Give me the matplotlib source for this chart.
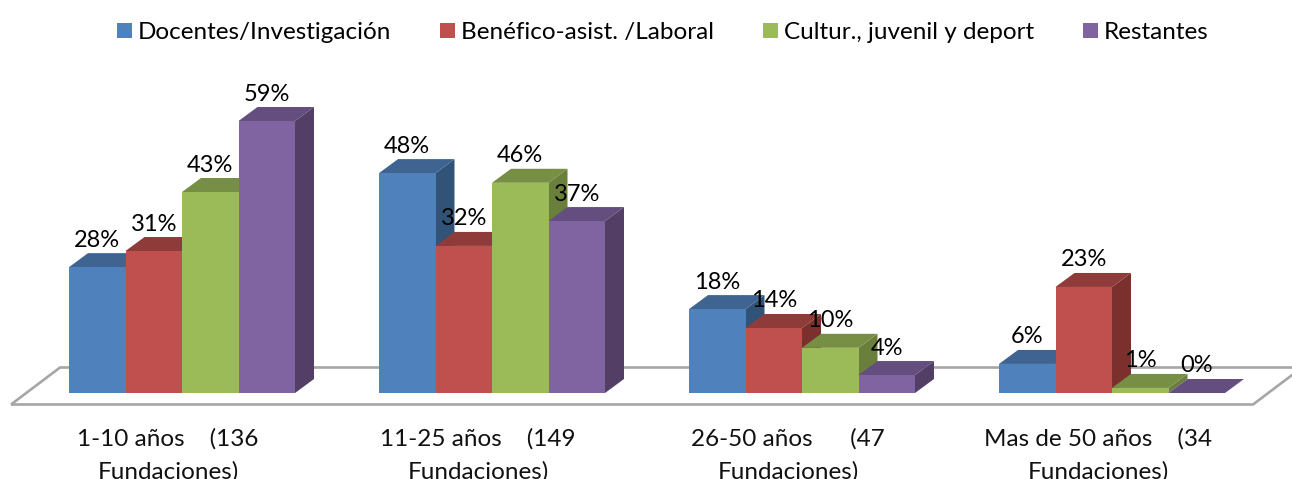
import matplotlib
matplotlib.use('Agg')
import matplotlib.pyplot as plt
from matplotlib.patches import Polygon

plt.rcParams['font.family'] = ['Lato', 'DejaVu Sans']

categories = ['1-10 años    (136\nFundaciones)', '11-25 años    (149\nFundaciones)',
              '26-50 años      (47\nFundaciones)', 'Mas de 50 años    (34\nFundaciones)']
series_names = ['Docentes/Investigación', 'Benéfico-asist. /Laboral',
                'Cultur., juvenil y deport', 'Restantes']
# printed labels
docentes_lbl = ['28%', '48%', '18%', '6%']
benefico_lbl = ['31%', '32%', '14%', '23%']
cultur_lbl = ['43%', '46%', '10%', '1%']
restantes_lbl = ['59%', '37%', '4%', '0%']
# bar heights
docentes = [27.3, 47.7, 18.2, 6.3]
benefico = [30.8, 31.9, 14.1, 23.0]
cultur = [43.6, 45.6, 9.8, 1.1]
restantes = [59.0, 37.3, 3.9, 0]

W, H = 1292, 479
PX_PER_PCT = 4.61
BASE = 393
y_px = 1 / PX_PER_PCT

front = ['#4F81BD', '#C0504D', '#9BBB59', '#8064A2']
top = ['#3F6491', '#8F3B39', '#778E45', '#644E80']
side = ['#325378', '#7B302E', '#6A7F3C', '#533F66']

bar_w = 56.5
dx = 19
dy = 14 * y_px
group_x = [69, 379, 689, 999]

fig = plt.figure(figsize=(W / 100, H / 100), dpi=100)
ax = fig.add_axes([0, 0, 1, 1])
ax.set_xlim(0, W)
ax.set_ylim((BASE - H) * y_px, BASE * y_px)
ax.axis('off')

# floor of the 3d box
floor = [(11, -11.5 * y_px), (1253, -11.5 * y_px), (1302, 25.5 * y_px), (60, 25.5 * y_px)]
ax.add_patch(Polygon(floor, closed=True, fill=False, edgecolor='#A6A6A6', lw=1.9, zorder=1))

z = 2
handles = []
all_vals = [docentes, benefico, cultur, restantes]
all_lbl = [docentes_lbl, benefico_lbl, cultur_lbl, restantes_lbl]
for s, vals in enumerate(all_vals):
    xs = [g + s * bar_w for g in group_x]
    for x, v in zip(xs, vals):
        ax.add_patch(Polygon([(x + bar_w, 0), (x + bar_w + dx, dy), (x + bar_w + dx, v + dy), (x + bar_w, v)],
                             facecolor=side[s], edgecolor='none', zorder=z + s))
        ax.add_patch(Polygon([(x, v), (x + dx, v + dy), (x + bar_w + dx, v + dy), (x + bar_w, v)],
                             facecolor=top[s], edgecolor='none', zorder=z + s))
    b = ax.bar(xs, vals, width=bar_w, align='edge', color=front[s], zorder=z + s + 0.5,
               label=series_names[s])
    handles.append(b)
    for x, v, lbl in zip(xs, vals, all_lbl[s]):
        ax.text(x + bar_w / 2, v + 27 * y_px, lbl, ha='center', va='center',
                fontsize=17, color='black', zorder=20)

for g, cat in zip(group_x, categories):
    first, second = cat.split('\n')
    cx = g + 99
    ax.text(cx, -45.5 * y_px, first, ha='center', va='center', fontsize=17.5, color='#111111', zorder=20)
    ax.text(cx, -79 * y_px, second, ha='center', va='center', fontsize=17.5, color='#111111', zorder=20)

fig.legend(handles=handles, loc='upper left', bbox_to_anchor=(100 / W, 1 - 5 / H), ncol=4, frameon=False,
           fontsize=17.5, handlelength=0.62, handleheight=0.62, handletextpad=0.25,
           columnspacing=2.0, borderpad=0.2)

fig.savefig('out.png', dpi=100)
